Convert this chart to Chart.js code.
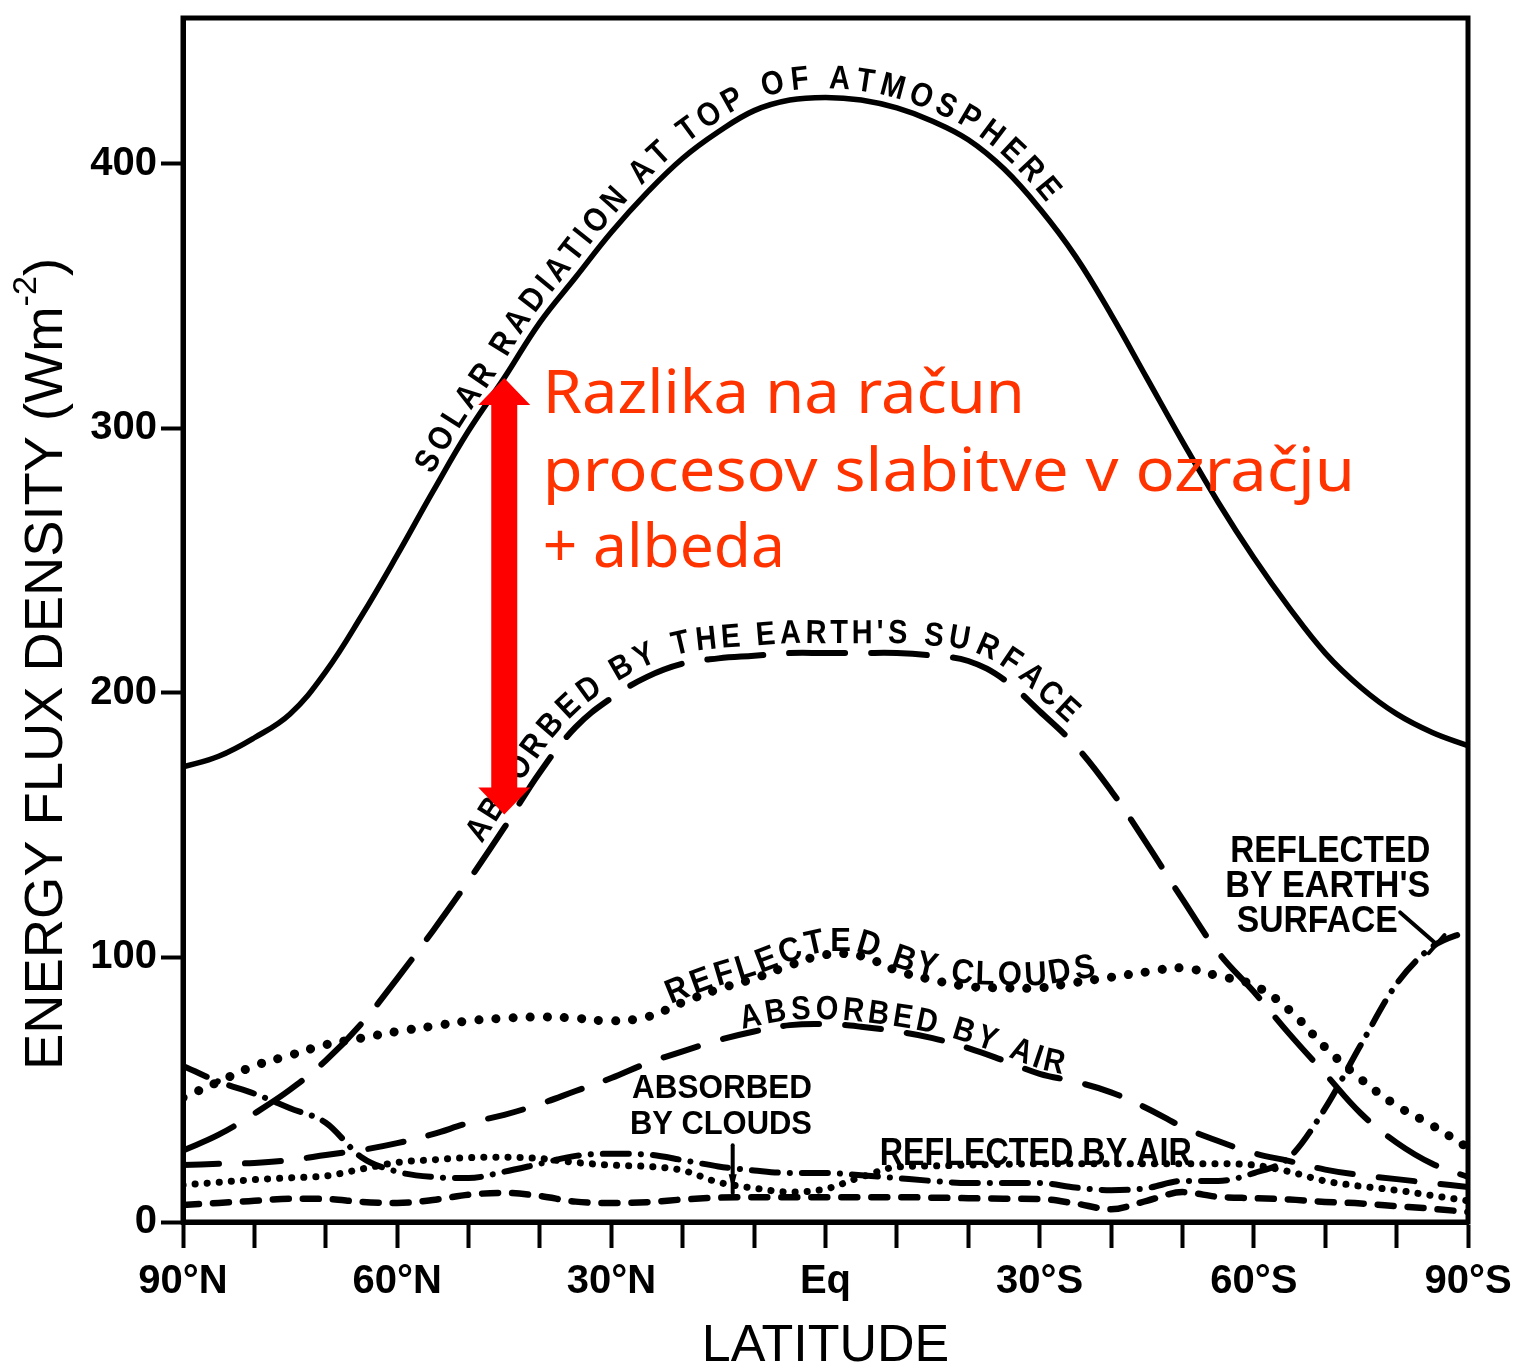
<!DOCTYPE html>
<html>
<head>
<meta charset="utf-8">
<title>Energy flux density by latitude</title>
<script src="https://cdn.jsdelivr.net/npm/chart.js@4/dist/chart.umd.min.js"></script>
<style>
  html, body { margin: 0; padding: 0; background: #ffffff; }
  canvas { display: block; }
</style>
</head>
<body>
<canvas id="flux" width="1515" height="1370"></canvas>
<script>
// Latitude grid (degrees, north positive)
const latitudes = [90,85,80,75,70,65,60,55,50,45,40,35,30,25,20,15,10,5,0,-5,-10,-15,-20,-25,-30,-35,-40,-45,-50,-55,-60,-65,-70,-75,-80,-85,-90];

// Zonal mean shortwave energy fluxes (W m-2)
const solarTop         = [172,176,183,192,208,229,252,276,299,319,340,357,374,389,402,412,420,424,425,424,421,416,409,398,383,365,343,319,295,272,251,232,215,202,192,185,180];
const absorbedSurface  = [27,33,41,50,61,75,92,110,129,149,170,187,198,206,211,213,214,215,215,215,215,214,212,205,193,180,163,143,122,102,87,71,56,41,30,22,17];
const reflectedClouds  = [47,53,59,63,67,69.5,72,74,76,77,77.5,77,76,77.5,83,88,92,97,101,100.5,95,91.5,89,88.5,88.5,90.5,92.5,94.5,96,93,89.5,80,66,54,44,36.5,28];
const absorbedAir      = [21.5,22,22.3,23.4,25.3,27.2,29.8,33.2,37.4,40.5,44.6,49.5,54.4,60,64.5,68.7,72,74.4,74.8,73.8,72,69.5,65.7,61,56,53,49,43,36,30.6,26,23,19.8,17.7,16.2,14.7,13.2];
const reflectedSurface = [59,53,48.5,43,37.5,24.5,19,17,16.6,19,22,25,25.8,25.5,23.4,21,19.5,18.5,18.5,17.7,16.6,15.5,14.7,14.7,14.7,13,12,12.8,15.5,15.5,18.5,24.5,43,67,90,104,110];
const reflectedAir     = [14,15,16,16.7,17.4,20,22.5,23.5,24.3,24.5,24,22.5,21.5,21,19.5,15,12.8,11.3,12.5,17,20.8,21.2,21.5,21.8,22,22,22,22,22,22,21.5,19,15.5,13.5,12,10,8];
const absorbedClouds   = [6.4,7.2,8,8.8,8.7,7.6,7.2,8.3,10.3,11,9.8,7.7,7.2,7.5,8.5,9.2,9.4,9.4,9.4,9.4,9.4,9.2,9,8.8,8.7,7,4.8,8,11.3,9.5,9,8.5,7.6,7,6,5,3.8];

// Axis tick labels
const latTickValues = [90,60,30,0,-30,-60,-90];
const latTickLabels = ['90°N','60°N','30°N','Eq','30°S','60°S','90°S'];

// Double arrow: attenuation in the atmosphere plus albedo, at 45°N
const arrowLat = 45;
const arrowLow = 154;
const arrowHigh = 319;
const noteLines = ['Razlika na račun', 'procesov slabitve v ozračju', '+ albeda'];

const chartFont = "'Liberation Sans', Arial, Helvetica, sans-serif";

const toPoints = arr => latitudes.map((lat, i) => ({ x: lat, y: arr[i] }));

const lineStyles = [
  { label: 'Solar radiation at top of atmosphere', data: solarTop,         width: 5.5, dash: [],               cap: 'butt',  mode: 'default'  },
  { label: "Absorbed by the Earth's surface",      data: absorbedSurface,  width: 6,   dash: [56, 26],         cap: 'round', mode: 'default'  },
  { label: 'Reflected by clouds',                  data: reflectedClouds,  width: 9,   dash: [0.1, 17],        cap: 'round', mode: 'default'  },
  { label: 'Absorbed by air',                      data: absorbedAir,      width: 6,   dash: [36, 26],         cap: 'round', mode: 'default'  },
  { label: "Reflected by Earth's surface",         data: reflectedSurface, width: 6,   dash: [26, 12, 0.1, 12],cap: 'round', mode: 'monotone' },
  { label: 'Reflected by air',                     data: reflectedAir,     width: 7,   dash: [0.1, 12],        cap: 'round', mode: 'monotone' },
  { label: 'Absorbed by clouds',                   data: absorbedClouds,   width: 6.5, dash: [16, 14],         cap: 'round', mode: 'monotone' }
];

// Labels written along the curves
const curveLabels = [
  { series: 0, text: 'SOLAR RADIATION AT TOP OF ATMOSPHERE', from: 54,   to: -30,  offset: 9,  size: 29, stretch: 1.15 },
  { series: 1, text: "ABSORBED BY THE EARTH'S SURFACE",      from: 47,   to: -33,  offset: 10, size: 29, stretch: 1.15 },
  { series: 2, text: 'REFLECTED BY CLOUDS',                  from: 21.5, to: -38,  offset: 3,  size: 31, stretch: 1.1  },
  { series: 3, text: 'ABSORBED BY AIR',                      from: 11.5, to: -33,  offset: 5,  size: 29, stretch: 1.15 }
];

// Straight labels: left edge latitude, baseline value, width in px
const plainLabels = [
  { text: 'ABSORBED',         lat: 27.1,  value: 46.8,  width: 180, size: 34 },
  { text: 'BY CLOUDS',        lat: 27.4,  value: 33.2,  width: 182, size: 34 },
  { text: 'REFLECTED BY AIR', lat: -7.6,  value: 21.5,  width: 312, size: 38 },
  { text: 'REFLECTED',        lat: -56.7, value: 136,   width: 200, size: 36 },
  { text: "BY EARTH'S",       lat: -56.0, value: 122.7, width: 205, size: 36 },
  { text: 'SURFACE',          lat: -57.6, value: 109.5, width: 161, size: 36 }
];

function pathFor(chart, idx) {
  const pts = chart.getDatasetMeta(idx).data;
  const out = [];
  for (let i = 0; i < pts.length - 1; i++) {
    const a = pts[i], b = pts[i + 1];
    const c1x = a.cp2x ?? a.x, c1y = a.cp2y ?? a.y;
    const c2x = b.cp1x ?? b.x, c2y = b.cp1y ?? b.y;
    for (let k = 0; k < 16; k++) {
      const t = k / 16, u = 1 - t;
      out.push({
        x: u*u*u*a.x + 3*u*u*t*c1x + 3*u*t*t*c2x + t*t*t*b.x,
        y: u*u*u*a.y + 3*u*u*t*c1y + 3*u*t*t*c2y + t*t*t*b.y
      });
    }
  }
  const last = pts[pts.length - 1];
  out.push({ x: last.x, y: last.y });
  out[0].s = 0;
  for (let i = 1; i < out.length; i++) {
    out[i].s = out[i - 1].s + Math.hypot(out[i].x - out[i - 1].x, out[i].y - out[i - 1].y);
  }
  return out;
}

function arcAtX(path, x) {
  for (let i = 1; i < path.length; i++) {
    if (path[i].x >= x) {
      const a = path[i - 1], b = path[i];
      const t = (x - a.x) / ((b.x - a.x) || 1);
      return a.s + t * (b.s - a.s);
    }
  }
  return path[path.length - 1].s;
}

function pointAtArc(path, s) {
  let i = 1;
  while (i < path.length - 1 && path[i].s < s) i++;
  const a = path[i - 1], b = path[i];
  const t = (s - a.s) / ((b.s - a.s) || 1);
  return { x: a.x + t * (b.x - a.x), y: a.y + t * (b.y - a.y) };
}

function drawCurvedLabel(chart, lab) {
  const { ctx } = chart;
  const path = pathFor(chart, lab.series);
  const xs = chart.scales.x;
  const s0 = arcAtX(path, xs.getPixelForValue(lab.from));
  const s1 = arcAtX(path, xs.getPixelForValue(lab.to));
  ctx.save();
  ctx.font = `bold ${lab.size}px ${chartFont}`;
  ctx.fillStyle = '#000';
  ctx.textAlign = 'center';
  ctx.textBaseline = 'alphabetic';
  const chars = [...lab.text];
  const widths = chars.map(c => ctx.measureText(c).width);
  const total = widths.reduce((a, b) => a + b, 0);
  const gap = (s1 - s0 - total) / (chars.length - 1);
  let s = s0;
  chars.forEach((c, i) => {
    const mid = s + widths[i] / 2;
    const p = pointAtArc(path, mid);
    const pa = pointAtArc(path, mid - 10), pb = pointAtArc(path, mid + 10);
    const ang = Math.atan2(pb.y - pa.y, pb.x - pa.x);
    const nx = Math.sin(ang), ny = -Math.cos(ang);
    ctx.save();
    ctx.translate(p.x + nx * lab.offset, p.y + ny * lab.offset);
    ctx.rotate(ang);
    ctx.scale(1, lab.stretch);
    ctx.fillText(c, 0, 0);
    ctx.restore();
    s += widths[i] + gap;
  });
  ctx.restore();
}

function fitText(ctx, text, x, y, width) {
  const w = ctx.measureText(text).width;
  ctx.save();
  ctx.translate(x, y);
  ctx.scale(width / w, 1);
  ctx.fillText(text, 0, 0);
  ctx.restore();
}

const annotations = {
  id: 'annotations',
  afterDraw(chart) {
    const { ctx, chartArea: area, scales: { x: xs, y: ys } } = chart;

    // frame around the plotting area
    ctx.save();
    ctx.strokeStyle = '#000';
    ctx.lineWidth = 5;
    ctx.strokeRect(area.left, area.top, area.right - area.left, area.bottom - area.top);
    ctx.restore();

    curveLabels.forEach(lab => drawCurvedLabel(chart, lab));

    // straight labels
    ctx.save();
    ctx.fillStyle = '#000';
    ctx.textAlign = 'left';
    ctx.textBaseline = 'alphabetic';
    plainLabels.forEach(l => {
      ctx.font = `bold ${l.size}px ${chartFont}`;
      fitText(ctx, l.text, xs.getPixelForValue(l.lat), ys.getPixelForValue(l.value), l.width);
    });
    ctx.restore();

    // pointer from "ABSORBED BY CLOUDS"
    ctx.save();
    ctx.strokeStyle = '#000';
    ctx.fillStyle = '#000';
    ctx.lineWidth = 4;
    ctx.lineCap = 'round';
    const px = xs.getPixelForValue(13);
    ctx.beginPath();
    ctx.moveTo(px, ys.getPixelForValue(29));
    ctx.lineTo(px, ys.getPixelForValue(11));
    ctx.stroke();
    ctx.beginPath();
    ctx.moveTo(px - 4, ys.getPixelForValue(18));
    ctx.lineTo(px + 4, ys.getPixelForValue(18));
    ctx.lineTo(px, ys.getPixelForValue(12));
    ctx.closePath();
    ctx.fill();

    // pointer from "REFLECTED BY EARTH'S SURFACE"
    const ax = xs.getPixelForValue(-80.5), ay = ys.getPixelForValue(117);
    const bx = xs.getPixelForValue(-85.6), by = ys.getPixelForValue(105);
    ctx.beginPath();
    ctx.moveTo(ax, ay);
    ctx.lineTo(bx, by);
    ctx.stroke();
    const len = Math.hypot(bx - ax, by - ay);
    const ux = (bx - ax) / len, uy = (by - ay) / len;
    ctx.beginPath();
    ctx.moveTo(bx - uy * 12, by + ux * 12);
    ctx.lineTo(bx + uy * 12, by - ux * 12);
    ctx.stroke();
    ctx.restore();

    // red double arrow
    const arX = xs.getPixelForValue(arrowLat);
    const yTop = ys.getPixelForValue(arrowHigh), yBot = ys.getPixelForValue(arrowLow);
    const shaft = 13, head = 26, headLen = 27;
    ctx.save();
    ctx.fillStyle = '#ff0000';
    ctx.beginPath();
    ctx.moveTo(arX, yTop);
    ctx.lineTo(arX + head, yTop + headLen);
    ctx.lineTo(arX + shaft, yTop + headLen);
    ctx.lineTo(arX + shaft, yBot - headLen);
    ctx.lineTo(arX + head, yBot - headLen);
    ctx.lineTo(arX, yBot);
    ctx.lineTo(arX - head, yBot - headLen);
    ctx.lineTo(arX - shaft, yBot - headLen);
    ctx.lineTo(arX - shaft, yTop + headLen);
    ctx.lineTo(arX - head, yTop + headLen);
    ctx.closePath();
    ctx.fill();
    ctx.restore();

    // red note
    ctx.save();
    ctx.fillStyle = '#ff3300';
    ctx.textAlign = 'left';
    ctx.textBaseline = 'alphabetic';
    ctx.font = `61px 'Noto Sans', ${chartFont}`;
    const noteX = xs.getPixelForValue(39.6);
    const noteBase = [305.9, 276.4, 247.4];
    const noteWidth = [482, 812, 242];
    noteLines.forEach((t, i) => fitText(ctx, t, noteX, ys.getPixelForValue(noteBase[i]), noteWidth[i]));
    ctx.restore();

    // y-axis title with superscript exponent
    ctx.save();
    ctx.fillStyle = '#000';
    ctx.textBaseline = 'middle';
    ctx.textAlign = 'left';
    const mainFont = `54px ${chartFont}`, supFont = `34px ${chartFont}`;
    ctx.font = mainFont; const w1 = ctx.measureText('ENERGY FLUX DENSITY (Wm').width;
    ctx.font = supFont;  const w2 = ctx.measureText('-2').width;
    ctx.font = mainFont; const w3 = ctx.measureText(')').width;
    const totalW = w1 + w2 + w3;
    const k = 812 / totalW;
    ctx.translate(area.left - 136, ys.getPixelForValue(210.9));
    ctx.rotate(-Math.PI / 2);
    ctx.scale(k, 1);
    let tx = -totalW / 2;
    ctx.font = mainFont; ctx.fillText('ENERGY FLUX DENSITY (Wm', tx, 0); tx += w1;
    ctx.font = supFont;  ctx.fillText('-2', tx, -20); tx += w2;
    ctx.font = mainFont; ctx.fillText(')', tx, 0);
    ctx.restore();
  }
};

new Chart(document.getElementById('flux'), {
  type: 'line',
  data: {
    datasets: lineStyles.map(s => ({
      label: s.label,
      data: toPoints(s.data),
      borderColor: '#000',
      borderWidth: s.width,
      borderDash: s.dash,
      borderCapStyle: s.cap,
      borderJoinStyle: 'round',
      pointRadius: 0,
      fill: false,
      tension: 0.4,
      cubicInterpolationMode: s.mode
    }))
  },
  options: {
    responsive: false,
    animation: false,
    devicePixelRatio: 1,
    layout: { padding: { top: 18, right: 47, left: 0, bottom: 0 } },
    plugins: { legend: { display: false }, tooltip: { enabled: false }, title: { display: false } },
    scales: {
      x: {
        type: 'linear', min: -90, max: 90, reverse: true,
        afterFit(s) { s.height = 148; s.paddingLeft = 0; s.paddingRight = 0; },
        border: { display: true, width: 5, color: '#000' },
        grid: { drawOnChartArea: false, drawTicks: true, tickLength: 26, tickWidth: 4, tickColor: '#000' },
        ticks: {
          stepSize: 10, autoSkip: false, maxRotation: 0, minRotation: 0, padding: 10, color: '#000',
          font: { family: chartFont, size: 40, weight: 'bold' },
          callback: v => { const i = latTickValues.indexOf(v); return i < 0 ? '' : latTickLabels[i]; }
        },
        title: { display: true, text: 'LATITUDE', color: '#000', font: { family: chartFont, size: 52, lineHeight: 0.9 }, padding: { top: 0, bottom: 0 } }
      },
      y: {
        min: 0, max: 455,
        afterFit(s) { s.width = 183; s.paddingTop = 0; s.paddingBottom = 0; },
        border: { display: true, width: 5, color: '#000' },
        grid: { drawOnChartArea: false, drawTicks: true, tickLength: 22, tickWidth: 4, tickColor: '#000' },
        ticks: { stepSize: 100, includeBounds: false, padding: 4, color: '#000', font: { family: chartFont, size: 40, weight: 'bold' } },
        title: { display: false }
      }
    }
  },
  plugins: [annotations]
});
</script>
</body>
</html>
